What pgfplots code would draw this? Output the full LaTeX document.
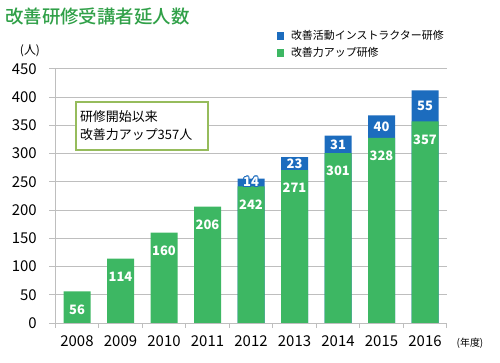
\documentclass[border=0pt]{standalone}
\usepackage{fontspec}
\setmainfont{Noto Sans CJK JP}
\newfontfamily\titlefont{Noto Sans CJK JP Medium}
\usepackage{contour}
\contourlength{0.9pt}
\usepackage{pgfplots}
\pgfplotsset{compat=1.18}
\usepackage{pgfplotstable}
\definecolor{barG}{RGB}{61,183,99}
\definecolor{barB}{RGB}{28,108,190}
\definecolor{titleG}{RGB}{48,160,72}
\definecolor{boxG}{RGB}{150,188,92}
\definecolor{gridC}{RGB}{190,190,190}
\pgfplotstableread{
x g
0 56
1 114
2 160
3 206
4 242
5 271
6 301
7 328
8 357
}\green
\pgfplotstableread{
x b total mid
4 14 256 249
5 23 294 282.5
6 31 332 316.5
7 40 368 348
8 55 412 384.5
}\blue
\pgfplotstableread{
x b mid
5 23 282.5
6 31 316.5
7 40 348
8 55 384.5
}\bluelab
\pgfplotstableread{
x b mid
4 14 249
}\bluesmall
\begin{document}
\begin{tikzpicture}
\path[use as bounding box] (0,0) rectangle (500bp,363bp);
\node[anchor=west, text=titleG, font=\titlefont\fontsize{18.5}{20}\selectfont, inner sep=0pt] at (5bp,346bp) {改善研修受講者延人数};
\node[anchor=center, font=\fontsize{12}{13}\selectfont, inner sep=0pt] at (30bp,312bp) {(人)};
\node[anchor=center, font=\fontsize{10}{11}\selectfont, inner sep=0pt] at (470bp,20bp) {(年度)};
\begin{axis}[
  at={(55.25bp,40bp)}, anchor=south west,
  scale only axis, width=391.5bp, height=254bp,
  xmin=-0.5, xmax=8.5, ymin=0, ymax=450,
  ybar, bar width=27bp, bar shift=0pt,
  axis x line*=bottom, axis y line*=left,
  axis line style={gridC, line width=1bp},
  xtick={0,...,8},
  xticklabels={2008,2009,2010,2011,2012,2013,2014,2015,2016},
  major x tick style={draw=none},
  minor xtick={-0.5,0.5,...,8.5},
  minor x tick style={gridC, line width=1bp},
  minor tick length=5bp,
  major tick length=6bp,
  tick align=outside,
  ytick={0,50,...,450},
  y tick style={gridC, line width=1bp},
  ymajorgrids, grid style={gridC, line width=1bp},
  /pgf/number format/assume math mode=true,
  tick label style={font=\fontsize{15}{16}\selectfont},
  xticklabel style={yshift=-3bp},
  yticklabel style={xshift=-9bp},
  legend style={at={(0.566,1.16)}, anchor=north west, draw=none, fill=none,
    font=\fontsize{11}{12}\selectfont, row sep=2bp, inner sep=0pt,
    legend cell align=left},
  legend image code/.code={\fill[#1] (0bp,-4bp) rectangle (7bp,4bp); \path (12bp,0bp);},
]
\addplot[fill=barB, draw=none] table[x=x, y=total] {\blue};
\addlegendentry{改善活動インストラクター研修}
\addplot[fill=barG, draw=none,
  nodes near coords,
  every node near coord/.append style={anchor=center, yshift=-18bp, text=white,
    font=\fontsize{13}{14}\selectfont\bfseries}]
  table[x=x, y=g] {\green};
\addlegendentry{改善力アップ研修}
\addplot[fill=none, draw=none, forget plot,
  point meta=explicit symbolic,
  nodes near coords,
  every node near coord/.append style={anchor=center, text=white, inner sep=0pt,
    font=\fontsize{13}{14}\selectfont\bfseries}]
  table[x=x, y=mid, meta=b] {\bluelab};
\addplot[fill=none, draw=none, forget plot,
  point meta=explicit symbolic,
  nodes near coords={\contour{barB}{\pgfplotspointmeta}},
  every node near coord/.append style={anchor=center, text=white, inner sep=0pt,
    font=\fontsize{13}{14}\selectfont\bfseries}]
  table[x=x, y=mid, meta=b] {\bluesmall};
\end{axis}
\node[draw=boxG, line width=2bp, fill=white, anchor=north west, minimum width=132bp, minimum height=48bp,
  align=left, font=\fontsize{13}{18}\selectfont, inner sep=0pt, text width=124bp] at (75bp,262bp) {研修開始以来\\改善力アップ357人};
\end{tikzpicture}
\end{document}
